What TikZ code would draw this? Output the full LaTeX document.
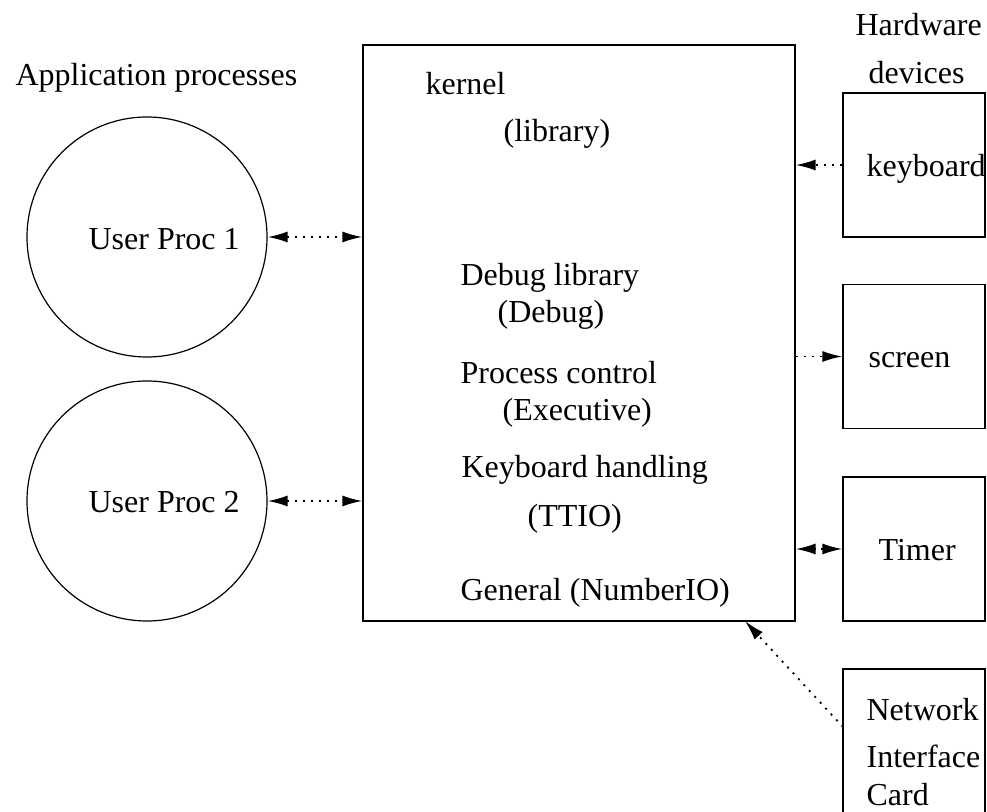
\documentclass[tikz,border=0pt]{standalone}
\usepackage{fontspec}
\setmainfont{Liberation Serif}
\usetikzlibrary{arrows.meta}

\tikzset{
  lbl/.style={anchor=base west, inner sep=0pt, font=\fontsize{16}{19}\selectfont},
  proc/.style={draw, circle, minimum size=120pt, inner sep=0pt},
  dev/.style={draw, rectangle, minimum width=71pt, minimum height=72pt, inner sep=0pt},
  link/.style={dash pattern=on 1pt off 3pt, line width=0.9pt, >={Latex[length=10pt,width=5.5pt]}}
}

\begin{document}
\begin{tikzpicture}[x=0.5pt, y=-0.5pt, line width=0.6pt]
      \useasboundingbox (0,0) rectangle (987,812);
      %\draw [help lines] (0,0) grid (987,812);
      \node[lbl] (apps) at (15,86) {Application processes};
      \node[lbl] (hw) at (855,36) {Hardware};
      \node[lbl] (devs) at (868,84) {devices};

      % processes on the left
      \node[proc] (p1) at (147,237) {};
      \node[proc] (p2) at (147,501) {};
      \node[lbl] (p1t) at (88,250) {User Proc 1};
      \node[lbl] (p2t) at (88,513) {User Proc 2};

      % the kernel and its parts
      \node[draw, rectangle, minimum width=216pt, minimum height=288pt, inner sep=0pt] (kernel) at (579,333) {};
      \node[lbl] (kname) at (425,95) {kernel};
      \node[lbl] (klib) at (503,142) {(library)};
      \node[lbl] (dbg) at (460,286) {Debug library};
      \node[lbl] (dbgmod) at (497,323) {(Debug)};
      \node[lbl] (pctl) at (460,384) {Process control};
      \node[lbl] (pctlmod) at (502,421) {(Executive)};
      \node[lbl] (kbd) at (461,478) {Keyboard handling};
      \node[lbl] (kbdmod) at (527,527) {(TTIO)};
      \node[lbl] (gen) at (460,601) {General (NumberIO)};

      % devices on the right
      \node[dev] (keyb) at (914,165) {};
      \node[dev] (scr) at (914,356.5) {};
      \node[dev] (tim) at (914,549) {};
      \node[dev] (nic) at (914,741) {};
      \node[lbl] (keybt) at (866,177) {keyboard};
      \node[lbl] (scrt) at (868,368) {screen};
      \node[lbl] (timt) at (878,561) {Timer};
      \node[lbl] (nic1) at (866,721) {Network};
      \node[lbl] (nic2) at (866,768) {Interface};
      \node[lbl] (nic3) at (866,806) {Card};

      \coordinate (kin) at (745,621);
      \coordinate (nicw) at (843,727);

      \draw[link, <->] (p1.east) to (p1.east -| kernel.west);
      \draw[link, <->] (p2.east) to (p2.east -| kernel.west);
      \draw[link, ->] (keyb.west) to (keyb.west -| kernel.east);
      \draw[link, ->] (scr.west -| kernel.east) to (scr.west);
      \draw[link, <->] (tim.west) to (tim.west -| kernel.east);
      \draw[link, ->] (nicw) to (kin);
    \end{tikzpicture}
\end{document}
